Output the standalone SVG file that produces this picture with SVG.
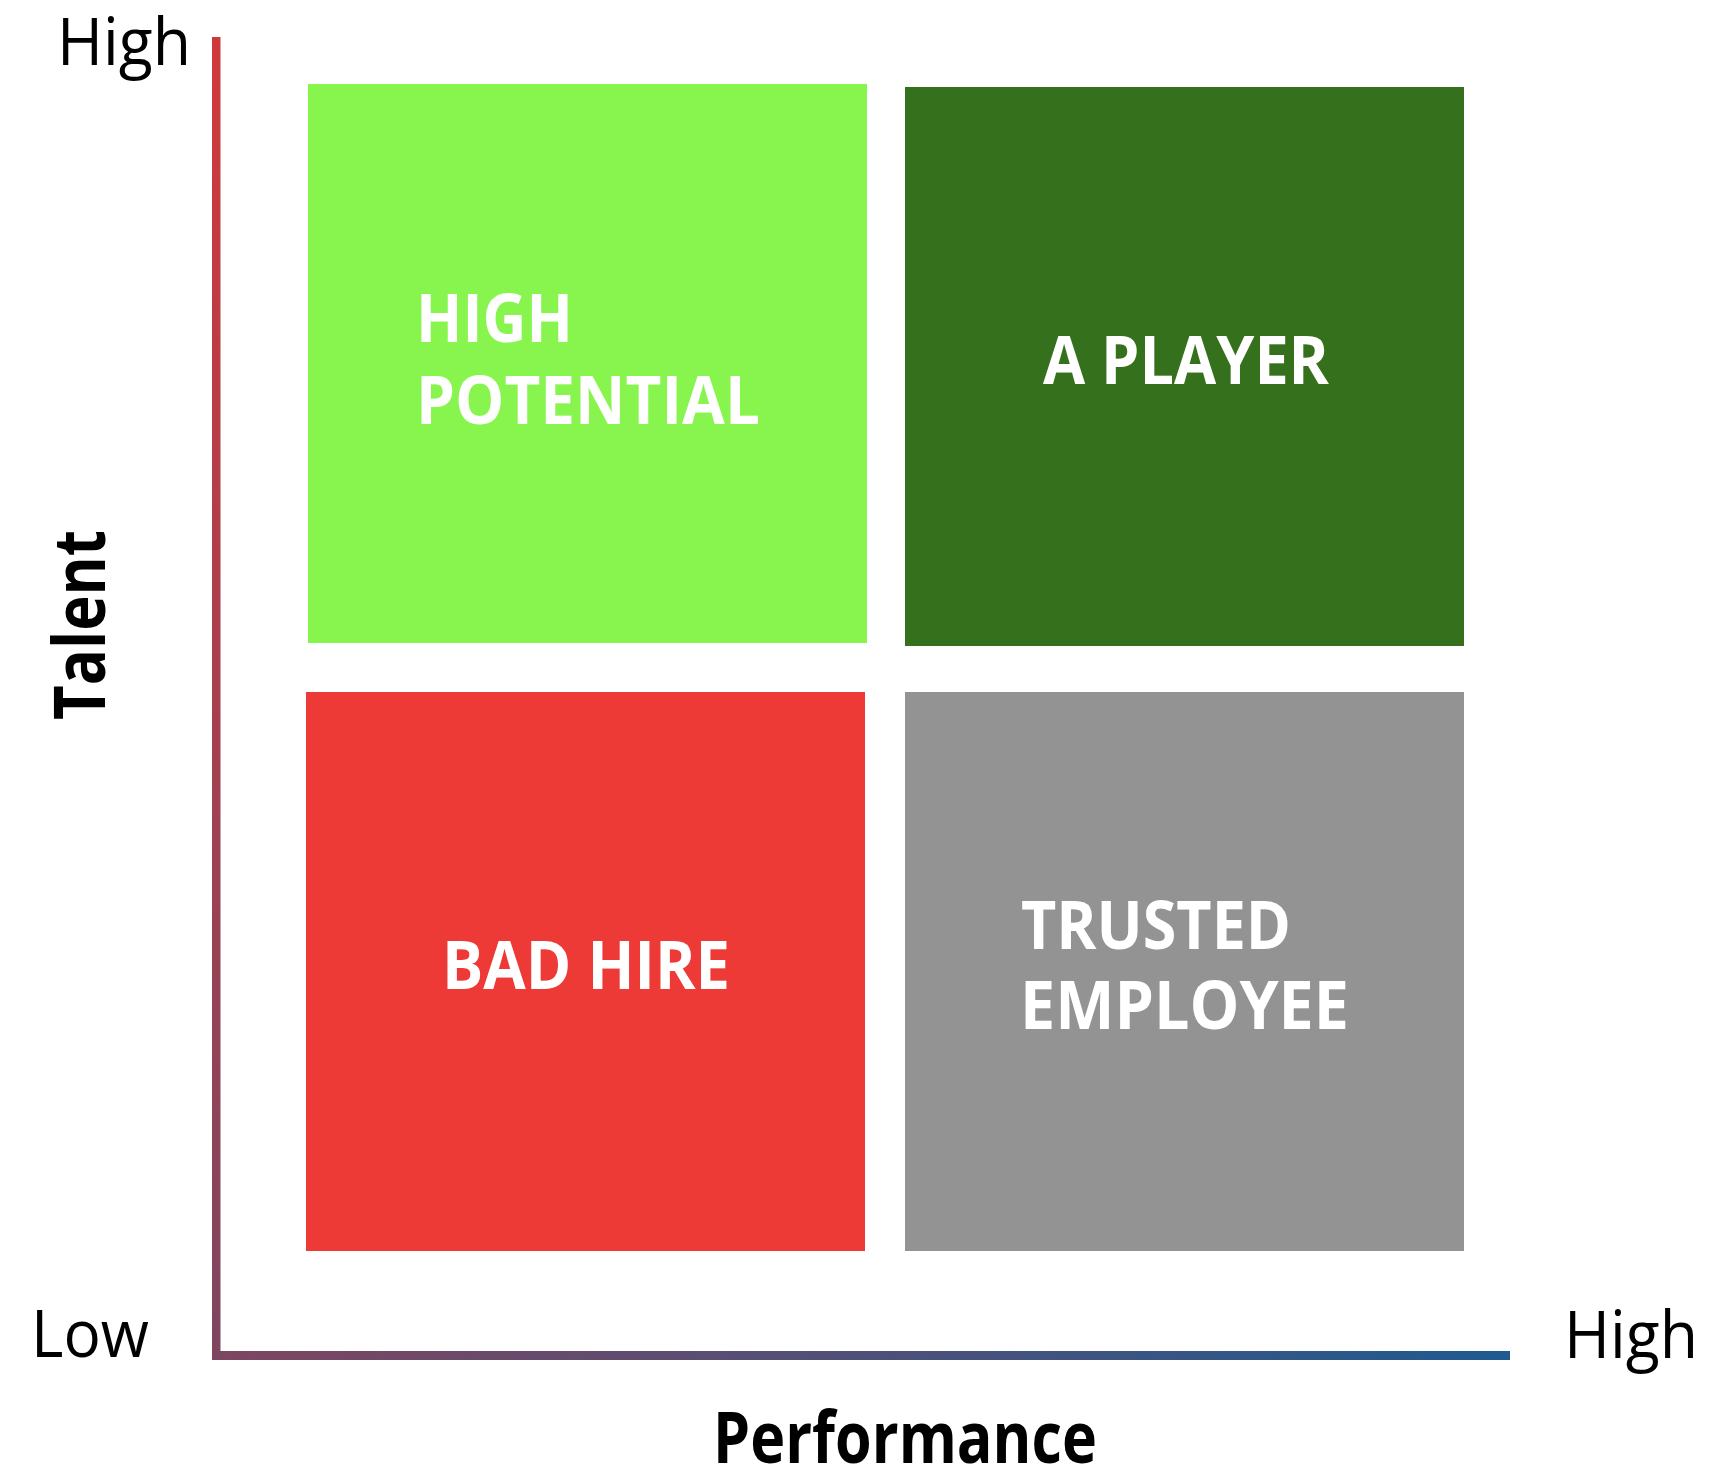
<svg xmlns="http://www.w3.org/2000/svg" width="1712" height="1464" viewBox="0 0 1712 1464">
  <style>
    .q { font-family: "Open Sans", "Liberation Sans", sans-serif; font-weight: bold; font-size: 66px; fill: #ffffff; }
    .ax { font-family: "Open Sans", "Liberation Sans", sans-serif; font-size: 66px; fill: #000000; }
    .title { font-family: "Open Sans", "Liberation Sans", sans-serif; font-weight: bold; font-size: 71px; fill: #000000; }
  </style>
  <defs>
    <linearGradient id="gv" x1="0" y1="37" x2="0" y2="1360" gradientUnits="userSpaceOnUse">
      <stop offset="0" stop-color="#d0393c"/>
      <stop offset="1" stop-color="#7e4660"/>
    </linearGradient>
    <linearGradient id="gh" x1="212" y1="0" x2="1510" y2="0" gradientUnits="userSpaceOnUse">
      <stop offset="0" stop-color="#7e4660"/>
      <stop offset="1" stop-color="#1f5a90"/>
    </linearGradient>
  </defs>
  <rect width="1712" height="1464" fill="#ffffff"/>

  <g id="axes">
    <rect x="212" y="37" width="8.5" height="1323" fill="url(#gv)"/>
    <rect x="212" y="1351" width="1298" height="9" fill="url(#gh)"/>
  </g>

  <g id="high-potential">
    <rect x="308" y="84" width="559" height="559" fill="#88f54f"/>
    <text class="q" x="416" y="342" textLength="157" lengthAdjust="spacingAndGlyphs">HIGH</text>
    <text class="q" x="416" y="424" textLength="344" lengthAdjust="spacingAndGlyphs">POTENTIAL</text>
  </g>

  <g id="a-player">
    <rect x="905" y="87" width="559" height="559" fill="#35711c"/>
    <text class="q" x="1043" y="384" textLength="286" lengthAdjust="spacingAndGlyphs">A PLAYER</text>
  </g>

  <g id="bad-hire">
    <rect x="306" y="692" width="559" height="559" fill="#ee3a36"/>
    <text class="q" x="442" y="989" textLength="288" lengthAdjust="spacingAndGlyphs">BAD HIRE</text>
  </g>

  <g id="trusted-employee">
    <rect x="905" y="692" width="559" height="559" fill="#939393"/>
    <text class="q" x="1021" y="949" textLength="270" lengthAdjust="spacingAndGlyphs">TRUSTED</text>
    <text class="q" x="1020" y="1029" textLength="329" lengthAdjust="spacingAndGlyphs">EMPLOYEE</text>
  </g>

  <g id="labels">
    <text class="ax" x="57" y="65" textLength="134" lengthAdjust="spacingAndGlyphs">High</text>
    <text class="ax" x="31" y="1357" textLength="118" lengthAdjust="spacingAndGlyphs">Low</text>
    <text class="ax" x="1564" y="1358" textLength="134" lengthAdjust="spacingAndGlyphs">High</text>
    <text class="title" x="713" y="1463" textLength="384" lengthAdjust="spacingAndGlyphs">Performance</text>
    <text class="title" transform="translate(105 720) rotate(-90)" x="0" y="0" textLength="190" lengthAdjust="spacingAndGlyphs">Talent</text>
  </g>
</svg>
